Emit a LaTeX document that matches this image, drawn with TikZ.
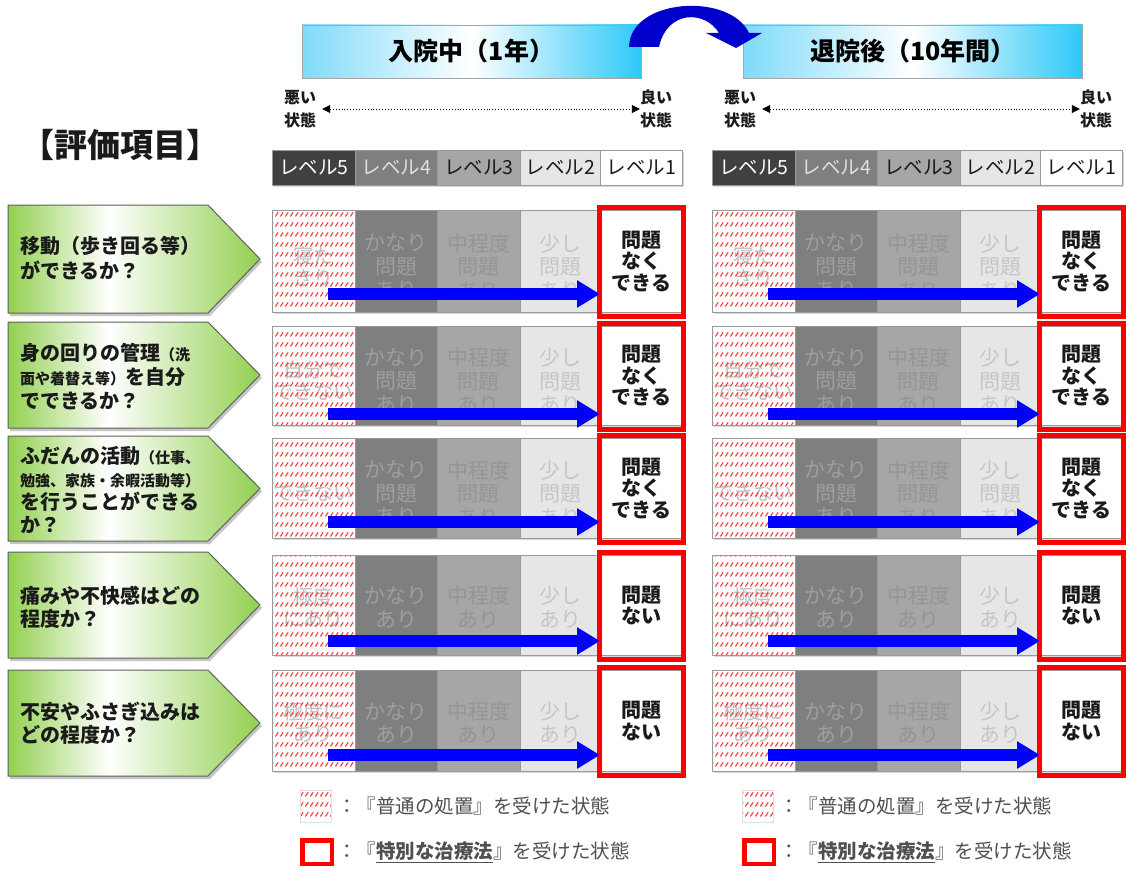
\documentclass[tikz,border=0pt]{standalone}
\usepackage{fontspec}
\setmainfont{Noto Sans CJK JP}
\usetikzlibrary{arrows.meta,patterns,calc}
\definecolor{lvfive}{HTML}{404040}
\definecolor{lvfour}{HTML}{7F7F7F}
\definecolor{lvthree}{HTML}{A6A6A6}
\definecolor{lvtwo}{HTML}{E6E6E6}
\definecolor{txfive}{HTML}{BDBDBD}
\definecolor{txfour}{HTML}{9E9E9E}
\definecolor{txthree}{HTML}{959595}
\definecolor{txtwo}{HTML}{C6C6C6}
\definecolor{cellline}{HTML}{9A9A9A}
\definecolor{lgreen}{HTML}{92D050}
\definecolor{hdrL}{HTML}{7FDBFA}
\definecolor{hdrR}{HTML}{2EC8F8}
\definecolor{arcblue}{HTML}{0000CC}
\definecolor{hatchred}{HTML}{FF3C3C}
\definecolor{legendtx}{HTML}{505050}
\definecolor{darktx}{HTML}{1A1A1A}

\pgfdeclarepatternformonly{redwave}{\pgfqpoint{0pt}{0pt}}{\pgfqpoint{5pt}{10pt}}{\pgfqpoint{5pt}{10pt}}{%
  \pgfsetlinewidth{1.3pt}%
  \pgfsetroundcap
  \pgfpathmoveto{\pgfqpoint{0.6pt}{3pt}}%
  \pgfpathlineto{\pgfqpoint{3.6pt}{7pt}}%
  \pgfusepath{stroke}}
\pgfdeclarehorizontalshading{greenfade}{100bp}{color(0bp)=(lgreen); color(25bp)=(lgreen); color(45bp)=(white); color(75bp)=(lgreen); color(100bp)=(lgreen)}

\newcommand{\fz}[2]{\fontsize{#1}{#2}\selectfont}

\tikzset{
  hdr/.style={draw=gray!70, line width=0.8pt, minimum width=339pt, minimum height=53pt,
    left color=hdrL, right color=hdrR, middle color=white, font=\fz{25}{28}\bfseries, inner sep=0pt},
  lvcell/.style={draw=cellline, line width=0.7pt, minimum height=35pt, inner sep=0pt,
    anchor=north west, font=\fz{19.5}{22}},
  rowcell/.style={draw=cellline, line width=0.7pt, inner sep=0pt, anchor=north west},
  celltx/.style={align=center, inner sep=0pt, font=\fz{21}{23.5}},
  oktx/.style={align=center, inner sep=0pt, font=\fz{20}{21.5}\bfseries, text=darktx},
  fivetx/.style={align=center, inner sep=0pt, font=\fz{20}{22}, text=txfive},
  bluearrow/.style={draw=blue, line width=12pt, -{Triangle[length=23pt,width=26pt]}},
  redbox/.style={draw=red, line width=5pt},
  lbl/.style={anchor=west, align=left, inner sep=0pt, text=darktx},
  statetx/.style={align=center, inner sep=0pt, font=\fz{16}{23}\bfseries, text=darktx},
  dotarrow/.style={dotted, line width=0.9pt, {Triangle[length=8pt,width=8pt]}-{Triangle[length=8pt,width=8pt]}},
  legtx/.style={anchor=west, inner sep=0pt, font=\fz{19.5}{21}, text=legendtx},
  hatchleg/.style={draw=gray!25, line width=0.5pt, minimum width=31pt, minimum height=32pt, inner sep=0pt,
    pattern=redwave, pattern color=hatchred},
  redleg/.style={draw=red, line width=4.5pt, minimum width=29.5pt, minimum height=23.5pt, inner sep=0pt}
}

\begin{document}
\begin{tikzpicture}[x=1pt,y=-1pt]
\useasboundingbox (0,0) rectangle (1126,869);
\fill[white] (0,0) rectangle (1126,869);

% headers
\node[hdr] (h1) at (471.5,51.5) {入院中（1年）};
\node[hdr] (h2) at (913,51.5) {退院後（10年間）};
% curved arrow
\fill[arcblue] (629,47) .. controls (630,-2) and (730,-8) .. (749,33) -- (762,33) -- (736,48) -- (706,33) -- (719,33) .. controls (705,10) and (667,10) .. (659,47) -- cycle;

% title
\node[inner sep=0pt, font=\fz{33}{35}\bfseries, text=darktx] (title) at (120,145) {【評価項目】};

% scales and level bars
\foreach \P/\o in {L/0,R/440}{
  \node[statetx] (\P-bad) at (300+\o,109) {悪い\\状態};
  \node[statetx] (\P-good) at (656+\o,109) {良い\\状態};
  \draw[dotarrow] (\P-bad.east) ++(6,0) coordinate (\P-da) (\P-da) -- (\P-good.west);
  \fill[gray!30] (274+\o,152) rectangle (684+\o,187);
  \foreach \i/\x/\w/\bg/\tc in {5/272/83/lvfive/white, 4/355/82/lvfour/gray!25, 3/437/83/lvthree/darktx, 2/520/80/lvtwo/darktx, 1/600/82/white/darktx}{
    \node[lvcell, minimum width=\w pt, fill=\bg, text=\tc] (\P-lv\i) at (\x+\o,150) {レベル\i};
  }
}

% left labels
\foreach \r/\t/\b in {1/205/313,2/322/428,3/436/541,4/552/658,5/670/776}{
  \pgfmathsetmacro\m{(\t+\b)/2}
  \fill[gray!45] (10,\t+3) -- (210,\t+3) -- (262,\m+3) -- (210,\b+3) -- (10,\b+3) -- cycle;
  \path[shade, shading=greenfade, draw=gray!75!black, line width=1pt] (8,\t) -- (208,\t) -- (260,\m) -- (208,\b) -- (8,\b) -- cycle;
}
\node[lbl, font=\fz{20}{25}\bfseries] (q1) at (20,258) {移動（歩き回る等）\\ができるか？};
\node[lbl, font=\fz{20}{24}\bfseries] (q2) at (20,377) {身の回りの管理{\fz{15}{24}（洗}\\{\fz{15}{24}面や着替え等）}を自分\\でできるか？};
\node[lbl, font=\fz{20}{23}\bfseries] (q3) at (20,490) {ふだんの活動{\fz{15}{23}（仕事、}\\{\fz{15}{23}勉強、家族・余暇活動等）}\\を行うことができる\\か？};
\node[lbl, font=\fz{20}{23}\bfseries] (q4) at (20,607) {痛みや不快感はどの\\程度か？};
\node[lbl, font=\fz{20}{23}\bfseries] (q5) at (20,723) {不安やふさぎ込みは\\どの程度か？};

% rows
\foreach \P/\o in {L/0,R/440}{
  \foreach \r/\t/\b/\ay/\dy/\tv/\tiv/\tiii/\tii/\ti in {
    1/210/312/294/5/{寝た\\きり}/{かなり\\問題\\あり}/{中程度\\問題\\あり}/{少し\\問題\\あり}/{問題\\なく\\できる},
    2/326/425/414/5/{自分で\\できない}/{かなり\\問題\\あり}/{中程度\\問題\\あり}/{少し\\問題\\あり}/{問題\\なく\\できる},
    3/438/538/522/5/{できない}/{かなり\\問題\\あり}/{中程度\\問題\\あり}/{少し\\問題\\あり}/{問題\\なく\\できる},
    4/555/655/641/2/{極度\\にあり}/{かなり\\あり}/{中程度\\あり}/{少し\\あり}/{問題\\ない},
    5/670/771/755/2/{極度に\\あり}/{かなり\\あり}/{中程度\\あり}/{少し\\あり}/{問題\\ない}}{
    \pgfmathsetmacro\h{\b-\t}
    \fill[gray!30] (274+\o,\t+2) rectangle (684+\o,\b+2);
    \node[rowcell, minimum width=83pt, minimum height=\h pt, fill=white] (\P-\r-5b) at (272+\o,\t) {};
    \node[fivetx, yshift=-\dy pt] (\P-\r-5t) at (\P-\r-5b.center) {\tv};
    \node[rowcell, minimum width=83pt, minimum height=\h pt, pattern=redwave, pattern color=hatchred] (\P-\r-5) at (272+\o,\t) {};
    \node[rowcell, minimum width=82pt, minimum height=\h pt, fill=lvfour] (\P-\r-4) at (355+\o,\t) {};
    \node[rowcell, minimum width=83pt, minimum height=\h pt, fill=lvthree] (\P-\r-3) at (437+\o,\t) {};
    \node[rowcell, minimum width=80pt, minimum height=\h pt, fill=lvtwo] (\P-\r-2) at (520+\o,\t) {};
    \node[rowcell, minimum width=82pt, minimum height=\h pt, fill=white] (\P-\r-1) at (600+\o,\t) {};
    \node[celltx, text=txfour, yshift=-\dy pt] (\P-\r-4t) at (\P-\r-4.center) {\tiv};
    \node[celltx, text=txthree, yshift=-\dy pt] (\P-\r-3t) at (\P-\r-3.center) {\tiii};
    \node[celltx, text=txtwo, yshift=-\dy pt] (\P-\r-2t) at (\P-\r-2.center) {\tii};
    \node[oktx] (\P-\r-1t) at (\P-\r-1.center) {\ti};
    \draw[redbox] ([shift={(-0.5,-3)}]\P-\r-1.north west) rectangle ([shift={(1,4)}]\P-\r-1.south east);
    \coordinate (\P-\r-s) at (328+\o,\ay);
    \draw[bluearrow] (\P-\r-s) -- (\P-\r-s -| \P-\r-1.west);
  }
}

% legends
\foreach \P/\o in {L/0,R/442}{
  \node[hatchleg] (\P-lgA) at (316+\o,806) {};
  \node[legtx] (\P-lgAt) at (337+\o,806) {：『普通の処置』を受けた状態};
  \node[redleg] (\P-lgB) at (317+\o,852) {};
  \node[legtx] (\P-lgBt) at (337+\o,852) {：『{\bfseries\underline{特別な治療法}}』を受けた状態};
}
\end{tikzpicture}
\end{document}
